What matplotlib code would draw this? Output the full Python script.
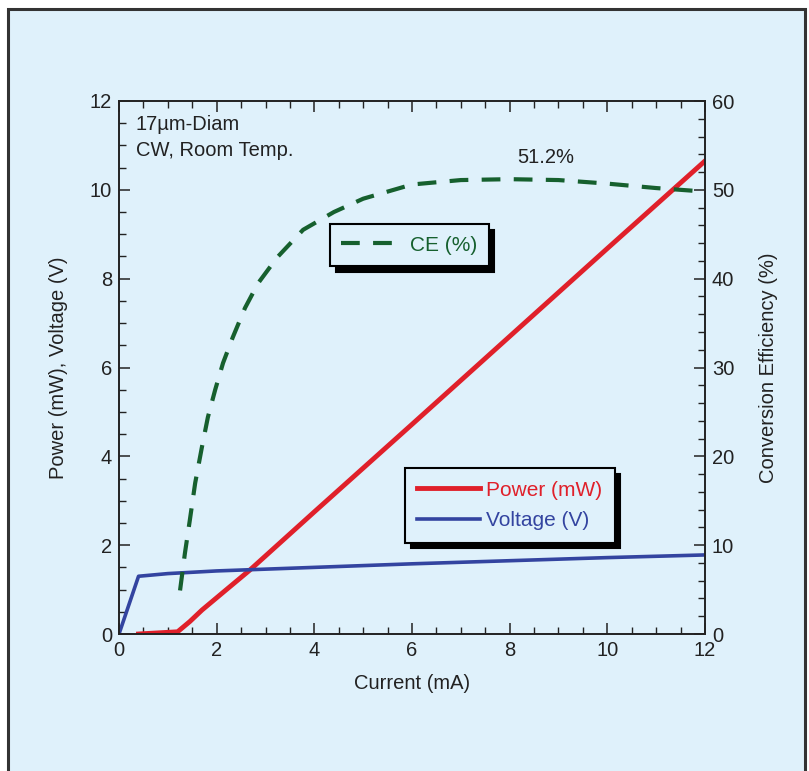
import matplotlib
matplotlib.use("Agg")
import matplotlib.pyplot as plt
from matplotlib.patches import Rectangle
from matplotlib.ticker import MultipleLocator

plt.rcParams['font.family'] = ['Liberation Sans', 'DejaVu Sans']

# Data
power_x = [0.4, 1.2, 1.45, 1.7, 2.2, 2.68, 4.0, 6.0, 8.0, 10.0, 12.0]
power_y = [0.0, 0.05, 0.28, 0.54, 1.0, 1.44, 2.75, 4.72, 6.7, 8.68, 10.65]

volt_x = [0.0, 0.4, 1.0, 2.0, 4.0, 6.0, 8.0, 10.0, 12.0]
volt_y = [0.0, 1.3, 1.36, 1.42, 1.5, 1.58, 1.65, 1.72, 1.78]

ce_x = [1.25, 1.35, 1.45, 1.56, 1.7, 1.82, 1.97, 2.13, 2.33, 2.58, 2.85, 3.24, 3.77, 4.4, 5.0, 6.0, 7.0, 8.0, 9.0, 10.0, 11.0, 12.0]
ce_y = [4.9, 9.1, 12.8, 17.0, 21.1, 24.4, 27.5, 30.5, 33.4, 36.7, 39.5, 42.4, 45.5, 47.5, 49.0, 50.6, 51.1, 51.2, 51.1, 50.7, 50.2, 49.8]

bg = '#dff1fb'
red = '#e0202a'
blue = '#3344a0'
green = '#16602e'
dark = '#222222'

fig = plt.figure(figsize=(8.09, 7.71), dpi=100, facecolor='white')
fig.patches.append(Rectangle((8/809, -0.05), (805-8)/809, 1.05 - 9/771,
                             transform=fig.transFigure, facecolor=bg,
                             edgecolor='#333333', linewidth=2.2, zorder=-10))

ax = fig.add_axes([119/809, (771-634)/771, (705-119)/809, (634-101)/771])
ax.set_facecolor(bg)
ax2 = ax.twinx()

lp, = ax.plot(power_x, power_y, color=red, lw=3.5, label='Power (mW)')
lv, = ax.plot(volt_x, volt_y, color=blue, lw=2.6, label='Voltage (V)')
lc, = ax2.plot(ce_x, ce_y, color=green, lw=3.0, dashes=(4.5, 3.2), label='CE (%)')

ax.set_xlim(0, 12)
ax.set_ylim(0, 12)
ax2.set_ylim(0, 60)

fs = 14.5
ax.xaxis.set_major_locator(MultipleLocator(2))
ax.xaxis.set_minor_locator(MultipleLocator(0.5))
ax.yaxis.set_major_locator(MultipleLocator(2))
ax.yaxis.set_minor_locator(MultipleLocator(0.5))
ax2.yaxis.set_major_locator(MultipleLocator(10))
ax2.yaxis.set_minor_locator(MultipleLocator(2))

ax.tick_params(which='both', direction='in', top=True, right=False, color=dark,
               labelsize=fs, labelcolor=dark)
ax.tick_params(which='major', length=8, width=1.1, pad=5)
ax.tick_params(which='minor', length=5, width=1.0)
ax2.tick_params(which='both', direction='in', color=dark, labelsize=fs, labelcolor=dark)
ax2.tick_params(which='major', length=8, width=1.1, pad=5)
ax2.tick_params(which='minor', length=5, width=1.0)

for a in (ax, ax2):
    for s in a.spines.values():
        s.set_color(dark)
        s.set_linewidth(1.2)

ax.set_xlabel('Current (mA)', fontsize=fs, color=dark, labelpad=10)
ax.set_ylabel('Power (mW), Voltage (V)', fontsize=fs, color=dark, labelpad=16)
ax2.set_ylabel('Conversion Efficiency (%)', fontsize=fs, color=dark, labelpad=18)

ax.text(0.029, 0.973, '17µm-Diam\nCW, Room Temp.', transform=ax.transAxes,
        fontsize=fs, color=dark, va='top', ha='left', linespacing=1.45)
ax2.text(8.74, 53.6, '51.2%', fontsize=fs, color=dark, ha='center', va='center')

shadow = {'ox': 4, 'oy': -4, 'color': 'black', 'alpha': 1.0}
leg1 = ax.legend(handles=[lp, lv], loc='upper left', bbox_to_anchor=(0.488, 0.311),
                 fontsize=15, frameon=True, fancybox=False, shadow=shadow,
                 borderpad=0.6, handlelength=3.0, handletextpad=0.3,
                 labelspacing=0.55, borderaxespad=0)
leg1.get_frame().set_facecolor(bg)
leg1.get_frame().set_edgecolor('black')
leg1.get_frame().set_linewidth(1.5)
leg1.get_frame().set_alpha(1)
for t, c in zip(leg1.get_texts(), [red, blue]):
    t.set_color(c)

leg2 = ax2.legend(handles=[lc], loc='upper left', bbox_to_anchor=(0.360, 0.769),
                  fontsize=15, frameon=True, fancybox=False, shadow=shadow,
                  borderpad=0.55, handlelength=3.0, handletextpad=0.3,
                  borderaxespad=0)
leg2.get_frame().set_facecolor(bg)
leg2.get_frame().set_edgecolor('black')
leg2.get_frame().set_linewidth(1.5)
leg2.get_frame().set_alpha(1)
leg2.get_texts()[0].set_color(green)

fig.savefig('out.png', dpi=100, facecolor='white')
